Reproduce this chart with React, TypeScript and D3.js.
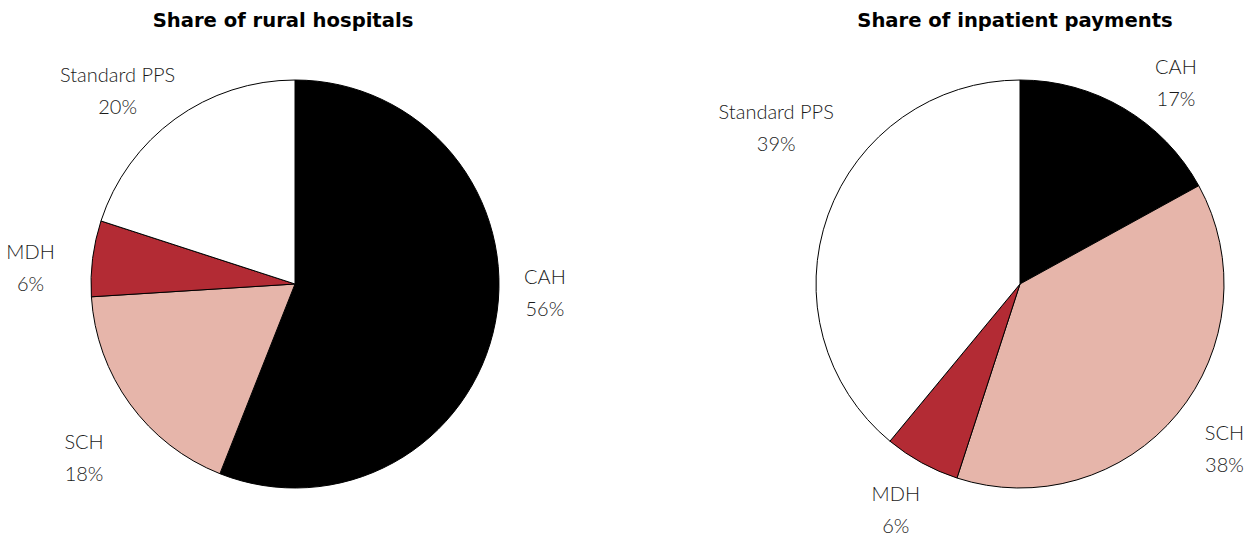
import React from "react";
import * as d3 from "d3";

const categories = ["CAH", "SCH", "MDH", "Standard PPS"];
const hospitalShare = [56, 18, 6, 20];
const paymentShare = [17, 38, 6, 39];
const titles = ["Share of rural hospitals", "Share of inpatient payments"];
const colors = ["#000000", "#e6b5aa", "#b32b34", "#ffffff"];

// label placement (angle in degrees clockwise from top, radius in px)
const labelAngles = [
  [91.8, 230.6, 273.7, 317.6],
  [37.7, 128.7, 208.9, 302.8],
];
const labelRadii = [
  [250, 273, 265, 263],
  [255, 262, 257, 290],
];

const W = 1255;
const H = 537;
const R = 204;
const centers = [
  [295, 284],
  [1020, 284],
];

function Pie({ values, idx }: { values: number[]; idx: number }) {
  const [cx, cy] = centers[idx];
  const pie = d3.pie<number>().value((d) => d).sort(null);
  const arcs = pie(values);
  const arc = d3.arc<d3.PieArcDatum<number>>().innerRadius(0).outerRadius(R);
  return (
    <g>
      <text
        x={idx === 0 ? 283 : 1015}
        y={27}
        textAnchor="middle"
        style={{ fontFamily: "'DejaVu Sans', sans-serif", fontWeight: 700, fontSize: 19.6 }}
        fill="#000"
      >
        {titles[idx]}
      </text>
      <g transform={`translate(${cx},${cy})`}>
        {arcs.map((a, i) => (
          <path key={i} d={arc(a) || ""} fill={colors[i]} stroke="#000" strokeWidth={1} />
        ))}
        {arcs.map((a, i) => {
          const ang = (labelAngles[idx][i] * Math.PI) / 180;
          const r = labelRadii[idx][i];
          const x = r * Math.sin(ang);
          const y = -r * Math.cos(ang);
          return (
            <text
              key={"l" + i}
              x={x}
              textAnchor="middle"
              style={{ fontFamily: "Lato, sans-serif", fontWeight: 300, fontSize: 20 }}
              fill="#1a1a1a"
            >
              <tspan x={x} y={y - 8}>
                {categories[i]}
              </tspan>
              <tspan x={x} y={y + 24}>
                {values[i]}%
              </tspan>
            </text>
          );
        })}
      </g>
    </g>
  );
}

export default function App() {
  return (
    <svg width={W} height={H} style={{ position: "absolute", left: 0, top: 0, background: "#fff" }}>
      <Pie values={hospitalShare} idx={0} />
      <Pie values={paymentShare} idx={1} />
    </svg>
  );
}
